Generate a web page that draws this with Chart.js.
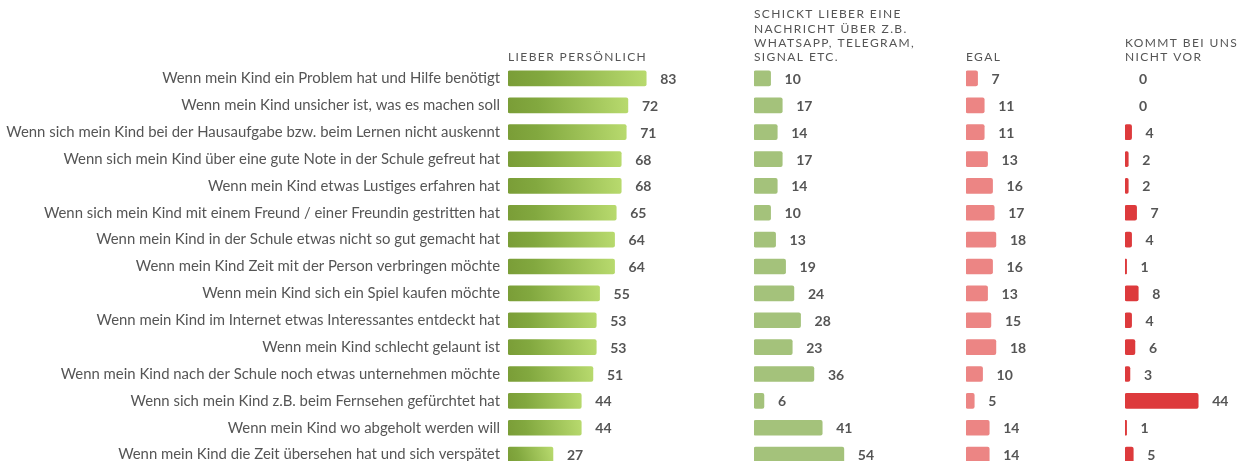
<!DOCTYPE html>
<html><head><meta charset="utf-8">
<script src="https://cdn.jsdelivr.net/npm/chart.js@4/dist/chart.umd.min.js"></script>
<style>html,body{margin:0;padding:0;background:#fff;overflow:hidden;}#wrap{position:relative;width:1237px;height:485px;}canvas{display:block;}</style>
</head><body><div id="wrap"><canvas id="c" width="1237" height="485"></canvas></div>
<script>
const categories = [
  "Wenn mein Kind ein Problem hat und Hilfe benötigt",
  "Wenn mein Kind unsicher ist, was es machen soll",
  "Wenn sich mein Kind bei der Hausaufgabe bzw. beim Lernen nicht auskennt",
  "Wenn sich mein Kind über eine gute Note in der Schule gefreut hat",
  "Wenn mein Kind etwas Lustiges erfahren hat",
  "Wenn sich mein Kind mit einem Freund / einer Freundin gestritten hat",
  "Wenn mein Kind in der Schule etwas nicht so gut gemacht hat",
  "Wenn mein Kind Zeit mit der Person verbringen möchte",
  "Wenn mein Kind sich ein Spiel kaufen möchte",
  "Wenn mein Kind im Internet etwas Interessantes entdeckt hat",
  "Wenn mein Kind schlecht gelaunt ist",
  "Wenn mein Kind nach der Schule noch etwas unternehmen möchte",
  "Wenn sich mein Kind z.B. beim Fernsehen gefürchtet hat",
  "Wenn mein Kind wo abgeholt werden will",
  "Wenn mein Kind die Zeit übersehen hat und sich verspätet"
];
const persoenlich = [83, 72, 71, 68, 68, 65, 64, 64, 55, 53, 53, 51, 44, 44, 27];
const nachricht   = [10, 17, 14, 17, 14, 10, 13, 19, 24, 28, 23, 36, 6, 41, 54];
const egal        = [7, 11, 11, 13, 16, 17, 18, 16, 13, 15, 18, 10, 5, 14, 14];
const kommtNicht  = [0, 0, 4, 2, 2, 7, 4, 1, 8, 4, 6, 3, 44, 1, 5];
const headers = [
  ["LIEBER PERSÖNLICH"],
  ["SCHICKT LIEBER EINE", "NACHRICHT ÜBER Z.B.", "WHATSAPP, TELEGRAM,", "SIGNAL ETC."],
  ["EGAL"],
  ["KOMMT BEI UNS", "NICHT VOR"]
];
const axisMax = [147.7, 127.3, 95.5, 67.3];

function greenGradient(ctx) {
  const chart = ctx.chart;
  const sx = chart.scales.x1, sy = chart.scales.y;
  if (ctx.type !== 'data' || !sx || !sy) return '#9cc157';
  const v = ctx.raw;
  const x0 = sx.getPixelForValue(0), x1 = sx.getPixelForValue(v);
  const yc = sy.getPixelForValue(ctx.dataIndex);
  if (![x0, x1, yc].every(Number.isFinite) || x1 - x0 < 0.5) return '#9cc157';
  const g = chart.ctx.createLinearGradient(x0, yc + 7, x1, yc - 7);
  g.addColorStop(0, '#7a9d37');
  g.addColorStop(0.25, '#82a83f');
  g.addColorStop(1, '#b8da6e');
  return g;
}

function solid(color) {
  return (ctx) => (ctx.type === 'data' && ctx.raw === 0) ? 'rgba(0,0,0,0)' : color;
}

const valueLabels = {
  id: 'valueLabels',
  afterDatasetsDraw(chart) {
    const ctx = chart.ctx;
    ctx.save();
    ctx.font = 'bold 14px Lato';
    ctx.fillStyle = '#555555';
    ctx.textAlign = 'left';
    ctx.textBaseline = 'middle';
    chart.data.datasets.forEach((ds, d) => {
      const meta = chart.getDatasetMeta(d);
      meta.data.forEach((bar, i) => {
        ctx.fillText(String(ds.data[i]), bar.x + 14, bar.y + 1);
      });
    });
    ctx.restore();
  }
};

const headerPlugin = {
  id: 'headerPlugin',
  afterDraw(chart) {
    const ctx = chart.ctx;
    ctx.save();
    ctx.font = '12px Lato';
    ctx.fillStyle = '#555555';
    ctx.textAlign = 'left';
    ctx.textBaseline = 'alphabetic';
    try { ctx.letterSpacing = '1.4px'; } catch (e) {}
    headers.forEach((lines, i) => {
      const s = chart.scales['x' + (i + 1)];
      lines.forEach((t, j) => {
        const y = 61 - (lines.length - 1 - j) * 14.2;
        ctx.fillText(t, s.left, y);
      });
    });
    ctx.restore();
  }
};

function xScale(i) {
  return { type: 'linear', position: 'bottom', stack: 'cols', stackWeight: axisMax[i],
    min: 0, max: axisMax[i], display: false };
}

function makeDs(data, axis, color) {
  return { data: data, xAxisID: axis, backgroundColor: color, grouped: false,
    barThickness: 15, borderRadius: 2, borderSkipped: false, borderWidth: 0 };
}

function draw() {
  new Chart(document.getElementById('c'), {
    type: 'bar',
    data: {
      labels: categories,
      datasets: [
        makeDs(persoenlich, 'x1', greenGradient),
        makeDs(nachricht, 'x2', solid('#a4c27b')),
        makeDs(egal, 'x3', solid('#ec8584')),
        makeDs(kommtNicht, 'x4', solid('#dd3a3c'))
      ]
    },
    options: {
      indexAxis: 'y',
      responsive: false,
      animation: false,
      devicePixelRatio: 1,
      layout: { padding: { top: 65, left: 0, right: 0, bottom: 0 } },
      plugins: { legend: { display: false }, tooltip: { enabled: false } },
      scales: {
        y: {
          type: 'category', position: 'left',
          grid: { display: false, drawTicks: false },
          border: { display: false },
          ticks: { font: { family: 'Lato', size: 14.9 }, color: '#555555', padding: 8, autoSkip: false },
          afterFit: (s) => { s.width = 508; }
        },
        x1: xScale(0), x2: xScale(1), x3: xScale(2), x4: xScale(3)
      }
    },
    plugins: [valueLabels, headerPlugin]
  });
}

Promise.all([
  document.fonts.load('15px Lato'),
  document.fonts.load('bold 14px Lato'),
  document.fonts.load('12px Lato')
]).then(draw, draw);
</script>
</body></html>
